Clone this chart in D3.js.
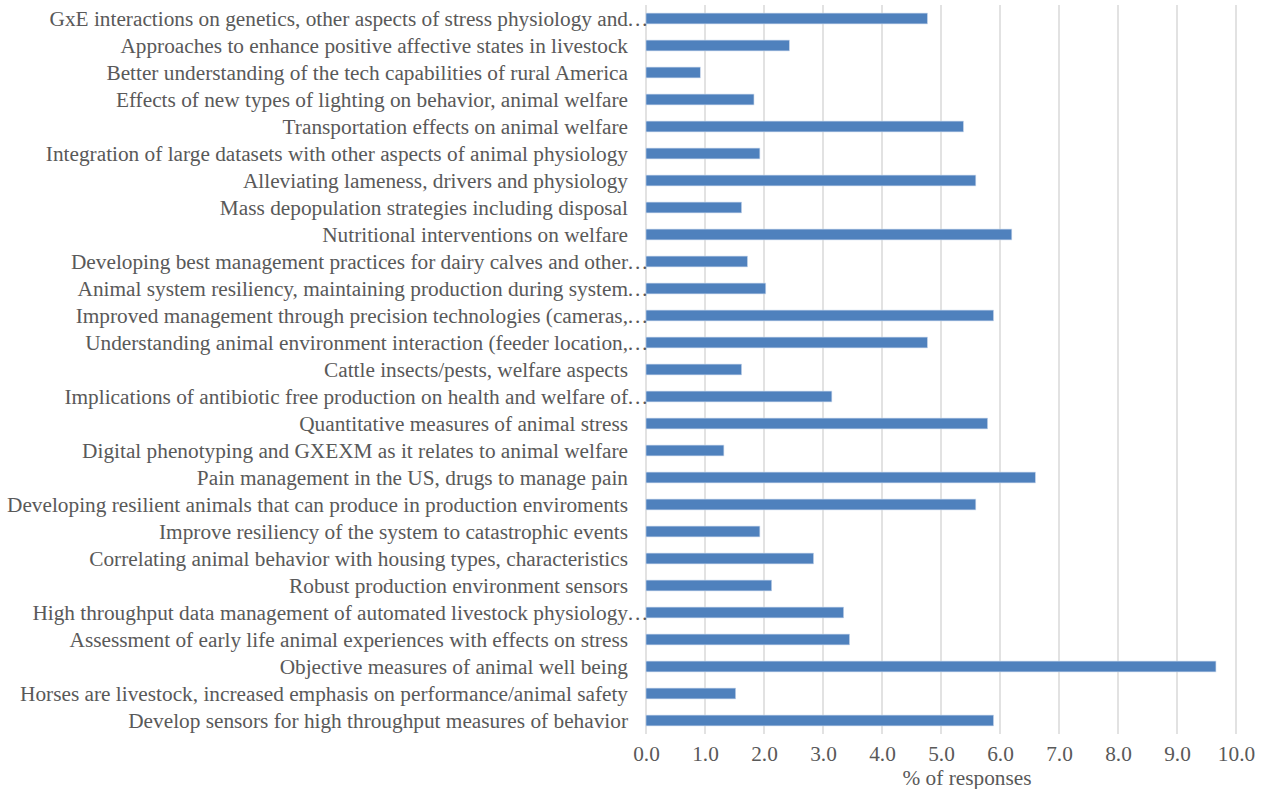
<!DOCTYPE html>
<html>
<head>
<meta charset="utf-8">
<script src="https://cdn.jsdelivr.net/npm/d3@7"></script>
<style>
  html, body { margin: 0; padding: 0; background: #fff; }
  svg { display: block; }
  text { font-family: "Liberation Serif", "Times New Roman", serif; fill: #595959; }
</style>
</head>
<body>
<svg id="chart" width="1268" height="789"></svg>
<script>
// Research priority topics, listed top to bottom
const categories = [
  "GxE interactions on genetics, other aspects of stress physiology and…",
  "Approaches to enhance positive affective states in livestock",
  "Better understanding of the tech capabilities of rural America",
  "Effects of new types of lighting on behavior, animal welfare",
  "Transportation effects on animal welfare",
  "Integration of large datasets with other aspects of animal physiology",
  "Alleviating lameness, drivers and physiology",
  "Mass depopulation strategies including disposal",
  "Nutritional interventions on welfare",
  "Developing best management practices for dairy calves and other…",
  "Animal system resiliency, maintaining production during system…",
  "Improved management through precision technologies (cameras,…",
  "Understanding animal environment interaction (feeder location,…",
  "Cattle insects/pests, welfare aspects",
  "Implications of antibiotic free production on health and welfare of…",
  "Quantitative measures of animal stress",
  "Digital phenotyping and GXEXM as it relates to animal welfare",
  "Pain management in the US, drugs to manage pain",
  "Developing resilient animals that can produce in production enviroments",
  "Improve resiliency of the system to catastrophic events",
  "Correlating animal behavior with housing types, characteristics",
  "Robust production environment sensors",
  "High throughput data management of automated livestock physiology…",
  "Assessment of early life animal experiences with effects on stress",
  "Objective measures of animal well being",
  "Horses are livestock, increased emphasis on performance/animal safety",
  "Develop sensors for high throughput measures of behavior"
];

// Share of responses (%) for each topic
const percentages = [
  4.77, 2.43, 0.92, 1.83, 5.38, 1.93, 5.59, 1.62, 6.20, 1.72,
  2.03, 5.89, 4.77, 1.62, 3.15, 5.79, 1.32, 6.60, 5.59, 1.93,
  2.84, 2.13, 3.35, 3.45, 9.66, 1.52, 5.89
];

const xTicks = [0, 1, 2, 3, 4, 5, 6, 7, 8, 9, 10];
const xTitle = "% of responses";

const rows = categories.map((c, i) => ({ label: c, value: percentages[i] }));

const svg = d3.select("#chart");
const plot = { left: 646, right: 1236, top: 5, bottom: 734 };
const fontSize = 21.3;

const x = d3.scaleLinear().domain([0, 10]).range([plot.left, plot.right]);
const y = d3.scaleBand()
  .domain(categories)
  .range([plot.top, plot.bottom])
  .paddingInner(0.6)
  .paddingOuter(0.3);

// Vertical gridlines
svg.append("g")
  .selectAll("line")
  .data(xTicks)
  .join("line")
  .attr("x1", d => x(d)).attr("x2", d => x(d))
  .attr("y1", plot.top).attr("y2", plot.bottom)
  .attr("stroke", "#d9d9d9")
  .attr("stroke-width", 1.5);

// Bars
svg.append("g")
  .selectAll("rect")
  .data(rows)
  .join("rect")
  .attr("x", x(0))
  .attr("y", d => y(d.label))
  .attr("width", d => x(d.value) - x(0))
  .attr("height", y.bandwidth())
  .attr("fill", "#4f81bd")
  .attr("stroke", "#c6d5ea")
  .attr("stroke-width", 0.6);

// Category labels; clipped labels let their ellipsis run past the label edge
const labelEdge = plot.left - 18;
const labels = svg.append("g")
  .selectAll("g")
  .data(rows)
  .join("g")
  .attr("transform", d => `translate(${labelEdge},${y(d.label) + y.bandwidth() / 2})`);

labels.append("text")
  .attr("text-anchor", "end")
  .attr("dy", "0.35em")
  .attr("font-size", fontSize)
  .text(d => d.label.replace(/…$/, ""));

labels.filter(d => d.label.endsWith("…"))
  .append("text")
  .attr("x", -1)
  .attr("text-anchor", "start")
  .attr("dy", "0.35em")
  .attr("font-size", fontSize)
  .text("…");

// X axis tick labels
const xAxis = d3.axisBottom(x)
  .tickValues(xTicks)
  .tickSize(0)
  .tickPadding(0)
  .tickFormat(d3.format(".1f"));

const ax = svg.append("g")
  .attr("transform", `translate(0,${plot.bottom})`)
  .call(xAxis);
ax.select(".domain").remove();
ax.selectAll("text")
  .attr("font-size", fontSize)
  .attr("font-family", "Liberation Serif, Times New Roman, serif")
  .attr("fill", "#595959")
  .attr("y", 12);

// Axis title
svg.append("text")
  .attr("x", 967)
  .attr("y", 785)
  .attr("text-anchor", "middle")
  .attr("font-size", fontSize)
  .text(xTitle);
</script>
</body>
</html>
